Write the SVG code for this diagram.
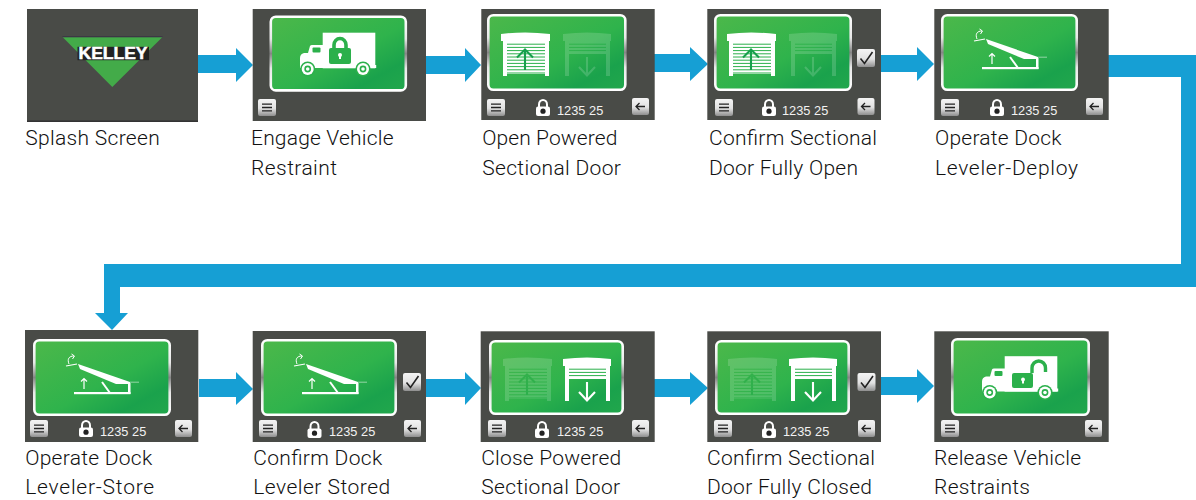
<svg xmlns="http://www.w3.org/2000/svg" width="1196" height="500" viewBox="0 0 1196 500">
<style>
.scr{fill:#494b47}
.pan{fill:url(#gp);stroke:url(#gs);stroke-width:2.6}
.lbl{font-family:Roboto,"Liberation Sans",sans-serif;font-size:21px;font-weight:300;fill:#111}
.num{font-family:"Liberation Sans",Arial,sans-serif;font-size:12.8px;fill:#f2f2f2}
.conn{fill:#169fd4}
.btn{fill:url(#gb)}
.ink{fill:none;stroke:#222;stroke-width:1.3}
.w{fill:#fff}
.g{fill:#2bb04b}
.dim{opacity:.16}
</style>
<defs>
<linearGradient id="gp" x1="0" y1="0" x2="1" y2="1"><stop offset="0" stop-color="#4cb84a"/><stop offset=".55" stop-color="#2fb34c"/><stop offset=".8" stop-color="#1aa24c"/><stop offset="1" stop-color="#22a74c"/></linearGradient>
<linearGradient id="gs" x1="0" y1="0" x2="0" y2="1"><stop offset="0" stop-color="#fff"/><stop offset=".3" stop-color="#e8e8e8"/><stop offset=".5" stop-color="#858585"/><stop offset=".7" stop-color="#e8e8e8"/><stop offset="1" stop-color="#fff"/></linearGradient>
<linearGradient id="gb" x1="0" y1="0" x2="0" y2="1"><stop offset="0" stop-color="#f4f4f4"/><stop offset=".55" stop-color="#e2e2e2"/><stop offset="1" stop-color="#8e8e8e"/></linearGradient>
<g id="menu"><rect class="btn" width="18" height="17" rx="2"/><path class="ink" d="M4,5.2H14M4,8.5H14M4,11.8H14"/></g>
<g id="back"><rect class="btn" width="17" height="17" rx="2"/><path class="ink" d="M13,8.5H4M7.5,5L4,8.5L7.5,12" stroke-width="1"/></g>
<g id="check"><rect class="btn" width="18" height="18" rx="2"/><path class="ink" d="M3.500,9.500L7.500,14.500L15.500,3" style="stroke-width:1.6"/></g>
<g id="lock"><path d="M3,8V5.500a4,4.600 0 0 1 8,0V8" fill="none" stroke="#fff" stroke-width="2"/><rect class="w" y="7.500" width="14" height="9.500" rx="2"/><circle cx="7" cy="12.200" r="2.600" fill="#222"/></g>
<g id="truck"><rect class="w" x="22.700" y=".7" width="52.600" height="35.600"/><path class="w" d="M0,36V26Q0,22 4,21H8L10,14Q10.500,13 12,13H23V36Z"/><rect class="g" x="12.500" y="15.500" width="8" height="5" rx="1"/><circle class="g" cx="7.700" cy="37" r="7.600"/><circle class="g" cx="63" cy="37" r="7.600"/><circle class="w" cx="7.700" cy="37" r="6"/><circle class="w" cx="63" cy="37" r="6"/><circle class="g" cx="7.700" cy="37" r="3.400"/><circle class="g" cx="63" cy="37" r="3.400"/><circle class="w" cx="7.700" cy="37" r="1.800"/><circle class="w" cx="63" cy="37" r="1.800"/><rect class="w" x="75" y="33" width="1.200" height="3"/></g>
<g id="slat"><path d="M6,12.200H44M6,15.400H44M6,18.600H44M6,21.800H44M6,25H44M6,28.200H44M6,31.400H44M6,34.600H44M6,37.800H44M6,41H44" stroke="#2bb04b" stroke-width="1"/></g>
<g id="doorUp"><path class="w" d="M0,2Q24,-1 49,2V9H0Z"/><rect class="w" x="2" y="9" width="4" height="35"/><rect class="w" x="44" y="9" width="4" height="35"/><rect class="w" x="6" y="9" width="38" height="33"/><use href="#slat"/><path d="M24,38V18M16,25.500L24,17.500L32,25.500" fill="none" stroke="#17a04c" stroke-width="2.100"/></g>
<g id="doorDown"><path class="w" d="M0,2Q24,-1 48,2V9H0Z"/><rect class="w" x="2" y="9" width="4" height="35"/><rect class="w" x="43" y="9" width="4" height="35"/><rect class="w" x="6" y="9" width="37" height="13"/><path d="M6,12.200H43M6,15.400H43M6,18.600H43" stroke="#2bb04b" stroke-width="1"/><path d="M24,25V43M16,35L24,43.500L32,35" fill="none" stroke="#fff" stroke-width="2.100"/></g>
<g id="leveler"><path class="w" d="M12,10L64,28V30H50L14,15Z"/><rect class="w" x="8" y="38" width="56.500" height="2.200"/><rect class="w" x="62" y="29" width="2.500" height="11"/><path d="M36,28L44,39" stroke="#fff" stroke-width="2"/><path d="M18,35V24.500M15,27.500L18,24.500L21,27.500" fill="none" stroke="#fff" stroke-width="1.200"/><path d="M0,12L11,10" stroke="#fff" stroke-width="1.200"/><path d="M3,10C1,5 3,2 8,2M5.500,0L8.500,2L6.500,5" fill="none" stroke="#fff" stroke-width="1"/><path d="M64,28.200H73" stroke="#fff" stroke-opacity=".5" stroke-width="1"/></g>
</defs>

<g id="connectors">
<polygon class="conn" points="198,55 236,55 236,48 253,65 236,82 236,73 198,73"/>
<polygon class="conn" points="426,56 465,56 465,48 481,65 465,82 465,74 426,74"/>
<polygon class="conn" points="654,54 690,54 690,47 708,64 690,81 690,72 654,72"/>
<polygon class="conn" points="881,55 917,55 917,47 934,64 917,81 917,72 881,72"/>
<polygon class="conn" points="1108,55 1196,55 1196,287 120,287 120,313 128,313 112,330 95,313 104,313 104,264 1181,264 1181,77 1108,77"/>
<polygon class="conn" points="199,379 236,379 236,372 253,389 236,405 236,397 199,397"/>
<polygon class="conn" points="426,379 465,379 465,372 481,388 465,405 465,397 426,397"/>
<polygon class="conn" points="654,379 690,379 690,372 708,388 690,405 690,397 654,397"/>
<polygon class="conn" points="881,377 917,377 917,369 934,386 917,403 917,395 881,395"/>
</g>

<g id="n1-splash">
<rect class="scr" x="27" y="9" width="171" height="113"/><rect x="27" y="120.500" width="171" height="1.500" fill="#333"/>
<polygon points="62.500,37 162.500,37 112.300,87" fill="#43ab49"/><path d="M62.500,36.800H162.500" stroke="#3a2f45" stroke-width="1"/>
<rect x="77.500" y="46.800" width="71.500" height="13.400" fill="#222"/>
<text x="78.500" y="59" font-family="'Liberation Sans',Arial,sans-serif" font-weight="700" font-size="16.500" textLength="69" lengthAdjust="spacingAndGlyphs" fill="#fff" stroke="#fff" stroke-width=".5">KELLEY</text>
<text class="lbl" x="25.200" y="145" textLength="134.500">Splash Screen</text>
</g>

<g id="n2-engage">
<rect class="scr" x="252.700" y="9" width="173.300" height="112"/>
<rect class="pan" x="270.800" y="16.800" width="135" height="73.600" rx="5"/>
<use href="#truck" x="300" y="32"/>
<rect class="g" x="329" y="48" width="22" height="16" rx="2"/><path d="M334,49V45a6,6.500 0 0 1 12,0V49" fill="none" stroke="#2bb04b" stroke-width="3.600"/><circle class="w" cx="340" cy="55" r="2"/><rect class="w" x="339" y="55" width="2" height="4"/>
<use href="#menu" x="258" y="99"/>
<text class="lbl" x="251" y="145" textLength="142.500">Engage Vehicle</text>
<text class="lbl" x="251" y="175" textLength="86">Restraint</text>
</g>

<g id="n3-open">
<rect class="scr" x="481.300" y="9" width="173.400" height="111"/>
<rect class="pan" x="488.300" y="15.300" width="137" height="74.400" rx="5"/>
<use href="#doorUp" x="501" y="32"/><use class="dim" href="#doorDown" x="563" y="32"/>
<use href="#menu" x="487" y="99"/><use href="#lock" x="536" y="99"/><text class="num" x="557" y="114.500">1235 25</text><use href="#back" x="632" y="98"/>
<text class="lbl" x="482.300" y="145" textLength="135">Open Powered</text>
<text class="lbl" x="482.300" y="175" textLength="138.500">Sectional Door</text>
</g>

<g id="n4-confirm-open">
<rect class="scr" x="707.300" y="9" width="173.700" height="111"/>
<rect class="pan" x="715.300" y="15.300" width="135.400" height="74.400" rx="5"/>
<use href="#doorUp" x="727" y="32"/><use class="dim" href="#doorDown" x="789" y="32"/>
<use href="#check" x="857" y="49"/>
<use href="#menu" x="715" y="99"/><use href="#lock" x="762" y="99"/><text class="num" x="782" y="114.500">1235 25</text><use href="#back" x="857.500" y="98"/>
<text class="lbl" x="709" y="145" textLength="168">Confirm Sectional</text>
<text class="lbl" x="709" y="175" textLength="149">Door Fully Open</text>
</g>

<g id="n5-deploy">
<rect class="scr" x="934.300" y="9" width="174.400" height="111"/>
<rect class="pan" x="942.300" y="15.300" width="134.400" height="74.400" rx="5"/>
<use href="#leveler" x="974" y="29"/>
<use href="#menu" x="941" y="99"/><use href="#lock" x="990" y="99"/><text class="num" x="1011" y="114.500">1235 25</text><use href="#back" x="1086" y="98"/>
<text class="lbl" x="935" y="145" textLength="126.500">Operate Dock</text>
<text class="lbl" x="935" y="175" textLength="143">Leveler-Deploy</text>
</g>

<g id="n6-store">
<rect class="scr" x="25" y="330" width="173.300" height="112"/>
<rect class="pan" x="34.300" y="340.300" width="135.400" height="74.400" rx="5"/>
<use href="#leveler" x="66" y="354"/>
<use href="#menu" x="30" y="420"/><use href="#lock" x="79" y="420"/><text class="num" x="100" y="436">1235 25</text><use href="#back" x="175" y="420"/>
<text class="lbl" x="25.200" y="465" textLength="127">Operate Dock</text>
<text class="lbl" x="25.200" y="494" textLength="129">Leveler-Store</text>
</g>

<g id="n7-confirm-stored">
<rect class="scr" x="252.700" y="331" width="173.300" height="111"/>
<rect class="pan" x="262.300" y="340.300" width="133.400" height="74.400" rx="5"/>
<use href="#leveler" x="294" y="354"/>
<use href="#check" x="403" y="373"/>
<use href="#menu" x="259" y="420"/><use href="#lock" x="307.500" y="421"/><text class="num" x="329" y="436">1235 25</text><use href="#back" x="404" y="420"/>
<text class="lbl" x="253.200" y="465" textLength="129">Confirm Dock</text>
<text class="lbl" x="253.200" y="494" textLength="137">Leveler Stored</text>
</g>

<g id="n8-close">
<rect class="scr" x="480.700" y="331.300" width="174" height="110.700"/>
<rect class="pan" x="490.300" y="341.300" width="132.400" height="72.400" rx="5"/>
<use class="dim" href="#doorUp" x="503" y="357"/><use href="#doorDown" x="563" y="357"/>
<use href="#menu" x="488" y="420"/><use href="#lock" x="535" y="421"/><text class="num" x="557" y="436">1235 25</text><use href="#back" x="632" y="420"/>
<text class="lbl" x="481.200" y="465" textLength="140">Close Powered</text>
<text class="lbl" x="481.200" y="494" textLength="139">Sectional Door</text>
</g>

<g id="n9-confirm-closed">
<rect class="scr" x="707.300" y="331.300" width="173.700" height="110.700"/>
<rect class="pan" x="716.300" y="341.300" width="132.400" height="72.400" rx="5"/>
<use class="dim" href="#doorUp" x="728" y="357"/><use href="#doorDown" x="789" y="357"/>
<use href="#check" x="857.500" y="373"/>
<use href="#menu" x="714" y="420"/><use href="#lock" x="762" y="421"/><text class="num" x="783" y="436">1235 25</text><use href="#back" x="858" y="420"/>
<text class="lbl" x="707" y="465" textLength="168">Confirm Sectional</text>
<text class="lbl" x="707" y="494" textLength="165">Door Fully Closed</text>
</g>

<g id="n10-release">
<rect class="scr" x="934.300" y="331.300" width="174.400" height="110.700"/>
<rect class="pan" x="952.300" y="339.300" width="136.400" height="75.400" rx="5"/>
<use href="#truck" x="982" y="355.500"/>
<rect class="g" x="1012" y="373" width="21" height="15" rx="2"/><path d="M1032,373V368a6.500,6.800 0 0 1 13.500,0V372" fill="none" stroke="#2bb04b" stroke-width="3.400"/><circle class="w" cx="1023" cy="379.500" r="1.900"/><rect class="w" x="1022" y="379.500" width="2" height="4"/>
<use href="#menu" x="941" y="420"/><use href="#back" x="1085" y="420"/>
<text class="lbl" x="934" y="465" textLength="147">Release Vehicle</text>
<text class="lbl" x="934" y="494" textLength="96">Restraints</text>
</g>
</svg>
